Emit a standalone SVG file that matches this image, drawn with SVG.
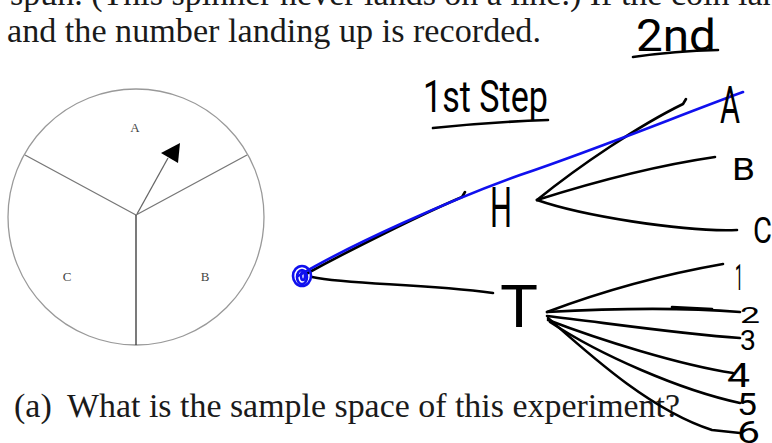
<svg xmlns="http://www.w3.org/2000/svg" width="772" height="443" viewBox="0 0 772 443">
<style>
.doc{font-family:"Liberation Serif","Times New Roman",serif;font-size:34px;fill:#1a1a1a}
.lbl{font-family:"Liberation Serif",serif;font-size:13px;fill:#444}
.hw{font-family:Roboto,"DejaVu Sans",sans-serif;font-weight:400;fill:#000}
.ink{fill:none;stroke:#000;stroke-width:2.6;stroke-linecap:round;stroke-linejoin:round}
.blue{fill:none;stroke:#1010ee;stroke-width:2.6;stroke-linecap:round;stroke-linejoin:round}
</style>
<rect width="772" height="443" fill="#fff"/>
<g id="text-top">
<text class="doc" x="10" y="5">spun. (This spinner never lands on a line.) If the coin lands</text>
<text class="doc" x="7" y="42" textLength="534" lengthAdjust="spacingAndGlyphs">and the number landing up is recorded.</text>
</g>
<g id="question">
<text class="doc" x="14" y="417">(a)</text>
<text class="doc" x="67" y="417" textLength="613" lengthAdjust="spacingAndGlyphs">What is the sample space of this experiment?</text>
</g>
<g id="spinner">
<circle cx="136" cy="217" r="128" fill="none" stroke="#999" stroke-width="1.3"/>
<path d="M136,215 L25,155 M136,215 L247,155" fill="none" stroke="#777" stroke-width="1.3"/>
<path d="M136,215 L136,345" fill="none" stroke="#333" stroke-width="1.3"/>
<path d="M137,214 L168,158" fill="none" stroke="#666" stroke-width="1.3"/>
<polygon points="180,143 161,153 178,163" fill="#000"/>
<text class="lbl" x="135" y="132" text-anchor="middle">A</text>
<text class="lbl" x="67" y="281" text-anchor="middle">C</text>
<text class="lbl" x="205" y="281" text-anchor="middle">B</text>
</g>
<g id="headings">
<text class="hw" x="636" y="51" font-size="44" textLength="80" lengthAdjust="spacingAndGlyphs">2nd</text>
<path class="ink" d="M633,57 Q675,51 718,50"/>
<text class="hw" x="423" y="112" font-size="44" textLength="125" lengthAdjust="spacingAndGlyphs">1st Step</text>
<path class="ink" d="M433,128 Q490,122 548,120"/>
</g>
<g id="connectors">
<path class="ink" d="M306,274 C350,250 420,215 462,197 l3,-5"/>
<path class="ink" d="M312,277 C350,285 420,283 493,293"/>
<path class="ink" d="M537,200 C580,165 640,125 683,104 l3,-5"/>
<path class="ink" d="M537,200 C600,180 660,165 715,157"/>
<path class="ink" d="M537,200 C580,215 680,232 737,230"/>
<path class="ink" d="M547,312 C600,292 660,275 723,264"/>
<path class="ink" d="M547,312 C620,308 690,308 740,312"/>
<path class="ink" d="M672,307 L712,309" stroke-width="4.5"/>
<path class="ink" d="M547,316 C600,322 680,334 740,338"/>
<path class="ink" d="M548,320 C600,340 680,365 733,373"/>
<path class="ink" d="M550,322 C600,355 680,390 740,403"/>
<path class="ink" d="M548,318 C590,355 650,410 712,430 L740,433"/>
<path class="blue" d="M298,276 C350,245 450,200 520,175 C600,148 680,115 743,92"/>
</g>
<g id="origin">
<ellipse cx="302" cy="276" rx="9" ry="10" class="blue"/>
<ellipse cx="302" cy="277" rx="5" ry="7" class="blue"/>
<ellipse cx="303" cy="276" rx="2" ry="4" class="blue"/>
</g>
<g id="node-H"><text class="hw" x="490" y="227" font-size="55" textLength="22" lengthAdjust="spacingAndGlyphs">H</text></g>
<g id="node-T"><text class="hw" x="500" y="327" font-size="60" textLength="38" lengthAdjust="spacingAndGlyphs">T</text></g>
<g id="node-A"><text class="hw" x="720" y="123" font-size="52" textLength="20" lengthAdjust="spacingAndGlyphs">A</text></g>
<g id="node-B"><text class="hw" x="732" y="180" font-size="32" textLength="23" lengthAdjust="spacingAndGlyphs">B</text></g>
<g id="node-C"><text class="hw" x="753" y="243" font-size="36" textLength="19" lengthAdjust="spacingAndGlyphs">C</text></g>
<g id="node-1"><text class="hw" x="735" y="290" font-size="37" textLength="8" lengthAdjust="spacingAndGlyphs">1</text></g>
<g id="node-2"><text class="hw" x="740" y="323" font-size="22" textLength="20" lengthAdjust="spacingAndGlyphs">2</text></g>
<g id="node-3"><text class="hw" x="740" y="350" font-size="27" textLength="16" lengthAdjust="spacingAndGlyphs">3</text></g>
<g id="node-4"><text class="hw" x="727" y="387" font-size="33" textLength="23" lengthAdjust="spacingAndGlyphs">4</text></g>
<g id="node-5"><text class="hw" x="737" y="415" font-size="32" textLength="20" lengthAdjust="spacingAndGlyphs">5</text></g>
<g id="node-6"><text class="hw" x="737" y="443" font-size="32" textLength="23" lengthAdjust="spacingAndGlyphs">6</text></g>
</svg>
